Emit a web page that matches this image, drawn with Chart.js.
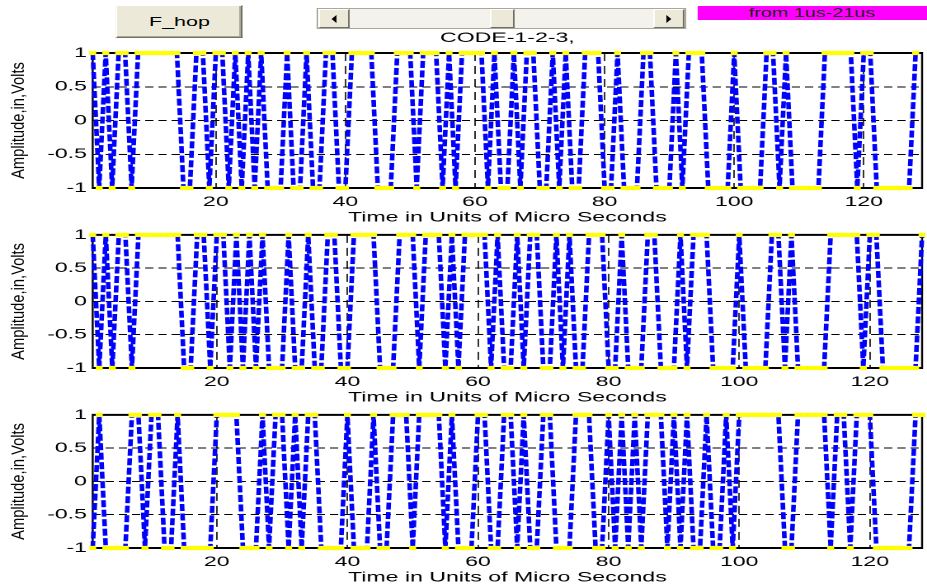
<!DOCTYPE html>
<html>
<head>
<meta charset="utf-8">
<script src="https://cdn.jsdelivr.net/npm/chart.js@4"></script>
<style>
html,body{margin:0;padding:0;background:#fff;overflow:hidden;width:927px;height:588px;}
#fig{position:absolute;left:0;top:0;width:562px;height:588px;transform:scaleX(1.6495);transform-origin:0 0;font-family:"Liberation Sans",Arial,sans-serif;}
.plot{position:absolute;left:0;width:562px;}
#btn{position:absolute;left:70.3px;top:5px;width:77px;height:33px;box-sizing:border-box;background:#ece9d8;border:1px solid;border-color:#fff #716f64 #716f64 #fff;box-shadow:inset -1px -1px 0 #aca899;font-size:13px;line-height:31px;text-align:center;color:#000;}
#slider{position:absolute;left:192.2px;top:8px;width:223.7px;height:21px;box-sizing:border-box;background:#f3f2ec;border:1px solid #aca899;}
.arr{position:absolute;top:0;width:18.8px;height:19px;box-sizing:border-box;background:#ece9d8;border:1px solid;border-color:#fff #716f64 #716f64 #fff;}
.arr i{position:absolute;top:4.5px;width:0;height:0;border-top:4.5px solid transparent;border-bottom:4.5px solid transparent;}
#la{left:0;} #la i{left:7px;border-right:3px solid #000;}
#ra{right:0;} #ra i{left:7px;border-left:3px solid #000;}
#thumb{position:absolute;top:0;left:104px;width:15px;height:19px;box-sizing:border-box;background:#ece9d8;border:1px solid;border-color:#fff #716f64 #716f64 #fff;}
#mag{position:absolute;left:422.5px;top:6px;width:139.5px;height:14px;background:#ff00ff;color:#222;font-size:12px;line-height:14px;text-align:center;}
</style>
</head>
<body>
<div id="fig">
  <div id="btn">F_hop</div>
  <div id="slider"><div class="arr" id="la"><i></i></div><div id="thumb"></div><div class="arr" id="ra"><i></i></div></div>
  <div id="mag">from 1us-21us</div>
  <div class="plot" style="top:25px;height:203px;"><canvas id="c1"></canvas></div>
  <div class="plot" style="top:223px;height:185px;"><canvas id="c2"></canvas></div>
  <div class="plot" style="top:403px;height:185px;"><canvas id="c3"></canvas></div>
</div>
<script>
// ---- data ----
const TIME = Array.from({length: 128}, (_, i) => i + 1);   // sample index (µs)
const CODE_1 = [
  1,-1, 1,-1, 1, 1,-1, 1, 1, 1,
  1, 1, 1, 1,-1,-1, 1, 1,-1, 1,
  1,-1, 1,-1, 1,-1, 1,-1,-1,-1,
  1,-1,-1, 1,-1,-1, 1, 1,-1,-1,
  1, 1, 1, 1,-1,-1,-1, 1, 1, 1,
 -1, 1, 1, 1,-1, 1,-1, 1, 1, 1,
  1,-1, 1,-1,-1, 1,-1, 1, 1,-1,
 -1, 1,-1, 1,-1,-1, 1, 1, 1,-1,
 -1, 1,-1,-1,-1, 1, 1,-1,-1,-1,
  1,-1, 1, 1, 1,-1,-1,-1,-1, 1,
 -1,-1,-1,-1, 1, 1,-1, 1,-1,-1,
 -1,-1,-1, 1, 1, 1, 1, 1,-1, 1,
  1,-1,-1,-1,-1,-1,-1, 1
];
const CODE_2 = [
  1,-1, 1,-1, 1, 1,-1, 1, 1, 1,
  1, 1, 1, 1,-1,-1, 1, 1,-1, 1,
  1,-1, 1,-1, 1,-1, 1,-1,-1,-1,
  1,-1,-1, 1,-1,-1, 1, 1,-1,-1,
  1, 1, 1, 1,-1,-1,-1, 1, 1, 1,
 -1, 1, 1, 1,-1, 1,-1, 1, 1, 1,
  1,-1, 1,-1,-1, 1,-1, 1, 1,-1,
 -1, 1,-1, 1,-1,-1, 1, 1, 1,-1,
 -1, 1,-1,-1,-1, 1, 1,-1,-1,-1,
  1,-1, 1, 1, 1,-1,-1,-1,-1, 1,
 -1,-1,-1,-1, 1, 1,-1, 1,-1,-1,
 -1,-1,-1, 1, 1, 1, 1, 1,-1, 1,
  1,-1,-1,-1,-1,-1,-1, 1
];
const CODE_3 = [
 -1, 1,-1,-1,-1,-1, 1, 1,-1, 1,
  1,-1,-1, 1,-1,-1,-1,-1,-1, 1,
  1, 1, 1,-1,-1,-1, 1,-1, 1, 1,
 -1, 1,-1, 1, 1,-1,-1,-1,-1, 1,
 -1,-1,-1, 1,-1,-1, 1, 1, 1,-1,
  1, 1, 1, 1,-1, 1,-1,-1,-1, 1,
  1,-1,-1, 1, 1,-1, 1,-1,-1, 1,
  1,-1,-1,-1, 1, 1, 1,-1,-1, 1,
 -1, 1,-1, 1,-1, 1, 1, 1,-1, 1,
 -1, 1,-1,-1, 1,-1,-1, 1,-1, 1,
  1, 1, 1, 1, 1, 1,-1,-1, 1, 1,
  1, 1, 1,-1, 1, 1,-1, 1, 1, 1,
 -1,-1,-1,-1,-1,-1, 1, 1
];
const X_TICKS = [20, 40, 60, 80, 100, 120];
const Y_TICKS = [-1, -0.5, 0, 0.5, 1];
const X_TITLE = 'Time in Units of Micro Seconds';
const Y_TITLE = 'Amplitude,in,Volts';
const PLOT_TITLE = 'CODE-1-2-3,';

const FONT = '"Liberation Sans", Arial, sans-serif';

const boxPlugin = {
  id: 'box',
  beforeDatasetsDraw(chart) {
    const {ctx, chartArea: a} = chart;
    ctx.save();
    ctx.strokeStyle = '#000';
    ctx.setLineDash([]);
    ctx.lineWidth = 2;
    ctx.beginPath();
    ctx.moveTo(a.left, a.top); ctx.lineTo(a.right, a.top);
    ctx.moveTo(a.left, a.bottom); ctx.lineTo(a.right, a.bottom);
    ctx.stroke();
    ctx.lineWidth = 1.2;
    ctx.beginPath();
    ctx.moveTo(a.left, a.top - 1); ctx.lineTo(a.left, a.bottom + 1);
    ctx.moveTo(a.right, a.top - 1); ctx.lineTo(a.right, a.bottom + 1);
    ctx.stroke();
    ctx.restore();
  }
};

const yTitlePlugin = {
  id: 'ytitle',
  afterDraw(chart) {
    const {ctx, chartArea: a} = chart;
    ctx.save();
    ctx.translate(11.4, (a.top + a.bottom) / 2);
    ctx.rotate(-Math.PI / 2);
    ctx.scale(1, 0.72);
    ctx.font = '14.7px ' + FONT;
    ctx.fillStyle = '#000';
    ctx.textAlign = 'center';
    ctx.textBaseline = 'middle';
    ctx.fillText(Y_TITLE, 0, 0);
    ctx.restore();
  }
};

function makeChart(id, values, xMax, withTitle) {
  return new Chart(document.getElementById(id), {
    type: 'line',
    data: {
      datasets: [{
        data: TIME.map((t, i) => ({x: t, y: values[i]})),
        borderColor: '#0000ff',
        borderWidth: 2.8,
        borderDash: [7, 2.5],
        pointStyle: 'rect',
        pointRadius: 3,
        pointHoverRadius: 3,
        pointBackgroundColor: '#ffff00',
        pointBorderColor: '#ffff00',
        pointBorderWidth: 0,
        tension: 0,
        fill: false,
        clip: false
      }]
    },
    options: {
      animation: false,
      responsive: true,
      maintainAspectRatio: false,
      devicePixelRatio: 2,
      events: [],
      layout: {padding: {top: withTitle ? 0 : 10, left: 0, right: 0, bottom: 0}},
      plugins: {
        legend: {display: false},
        tooltip: {enabled: false},
        title: {
          display: withTitle,
          text: PLOT_TITLE,
          fullSize: false,
          color: '#000',
          font: {family: FONT, size: 14, weight: 'normal'},
          padding: {top: 4.6, bottom: 6.6}
        }
      },
      scales: {
        x: {
          type: 'linear',
          min: 1,
          max: xMax,
          afterBuildTicks: s => { s.ticks = X_TICKS.map(v => ({value: v})); },
          afterFit: s => { s.height = 40; },
          grid: {color: '#000', lineWidth: 0.8, drawTicks: false},
          border: {display: false, dash: [8, 5]},
          ticks: {padding: 5.5, color: '#000', font: {family: FONT, size: 14}, maxRotation: 0, autoSkip: false, callback: v => String(v)},
          title: {display: true, text: X_TITLE, color: '#000', font: {family: FONT, size: 14}, padding: {top: 0, bottom: 2.2}}
        },
        y: {
          min: -1,
          max: 1,
          afterBuildTicks: s => { s.ticks = Y_TICKS.map(v => ({value: v})); },
          afterFit: s => { s.width = 56.2; },
          grid: {color: '#000', lineWidth: 1, drawTicks: false},
          border: {display: false, dash: [5, 3]},
          ticks: {padding: 3.5, color: '#000', font: {family: FONT, size: 14}, callback: v => String(v)}
        }
      }
    },
    plugins: [boxPlugin, yTitlePlugin]
  });
}

makeChart('c1', CODE_1, 129, true);
makeChart('c2', CODE_2, 128, false);
makeChart('c3', CODE_3, 128, false);
</script>
</body>
</html>
